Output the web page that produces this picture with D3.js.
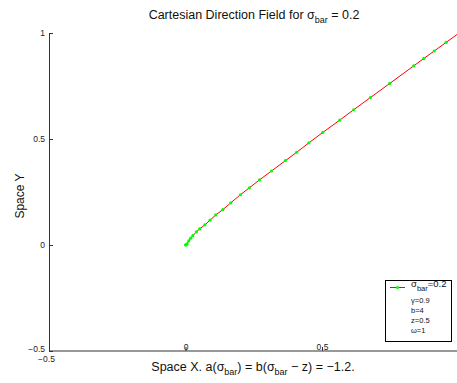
<!DOCTYPE html>
<html>
<head>
<meta charset="utf-8">
<script src="https://cdn.jsdelivr.net/npm/d3@7"></script>
<style>
  body { margin: 0; background: #fff; }
  svg { display: block; font-family: "Liberation Sans", Arial, sans-serif; }
</style>
</head>
<body>
<script>
// trajectory (marker points, plus the line end)
const xVals = [0, 0.002, 0.004, 0.006, 0.012, 0.019, 0.027, 0.040, 0.052, 0.071, 0.090, 0.111,
  0.137, 0.166, 0.201, 0.234, 0.271, 0.315, 0.366, 0.407, 0.452, 0.503, 0.565, 0.616,
  0.677, 0.748, 0.836, 0.873, 0.911, 0.955, 1.0]
const yVals = [0, 0.001, 0.003, 0.006, 0.019, 0.032, 0.044, 0.062, 0.076, 0.095, 0.117, 0.142,
  0.167, 0.199, 0.237, 0.270, 0.307, 0.349, 0.398, 0.437, 0.482, 0.531, 0.589, 0.638,
  0.695, 0.762, 0.845, 0.880, 0.915, 0.956, 0.998]
const xTicks = [-0.5, 0, 0.5]
const yTicks = [-0.5, 0, 0.5, 1]
const legendLines = ['γ=0.9', 'b=4', 'z=0.5', 'ω=1']

;(function () {
  const width = 457
  const height = 383
  const svg = d3.select('body').append('svg')
    .attr('width', width).attr('height', height)

  const x = d3.scaleLinear().domain([-0.5, 1]).range([49, 458.5])
  const y = d3.scaleLinear().domain([-0.5, 1]).range([351, 33])

  // x axis
  const xAxis = svg.append('g')
    .attr('transform', `translate(0,${y(-0.5)})`)
    .call(d3.axisBottom(x).tickValues(xTicks).tickSizeInner(-4).tickSizeOuter(0)
      .tickFormat((d) => (d < 0 ? '\u22120.5' : d3.format('')(d))))
  xAxis.select('.domain').attr('stroke', '#333').attr('d', `M${x(-0.5)},0H${width}`)
  xAxis.selectAll('.tick line').attr('stroke', '#333')
  xAxis.selectAll('.tick text')
    .attr('font-size', 8.5).attr('fill', '#222').attr('dy', null)
    .attr('y', (d) => (d < 0 ? 11 : -1.5))
    .attr('x', (d) => (d < 0 ? -3 : 0))

  // y axis
  const yAxis = svg.append('g')
    .attr('transform', `translate(${x(-0.5)},0)`)
    .call(d3.axisLeft(y).tickValues(yTicks).tickSizeInner(-4).tickSizeOuter(0).tickPadding(4)
      .tickFormat((d) => (d < 0 ? '\u22120.5' : d3.format('')(d))))
  yAxis.select('.domain').attr('stroke', '#333')
  yAxis.selectAll('.tick line').attr('stroke', '#333')
  yAxis.selectAll('.tick text').attr('font-size', 8.5).attr('fill', '#222')
    .attr('dy', (d) => (d < 0 ? '0.1em' : '0.32em'))

  // curve
  const pts = xVals.map((v, i) => [v, yVals[i]])
  const plot = svg.append('g')
  plot.append('path')
    .datum(pts)
    .attr('d', d3.line().x((d) => x(d[0])).y((d) => y(d[1])))
    .attr('fill', 'none')
    .attr('stroke', '#ff0000')
    .attr('stroke-width', 1)
  plot.selectAll('circle')
    .data(pts.slice(0, -1))
    .enter()
    .append('circle')
    .attr('cx', (d) => x(d[0]))
    .attr('cy', (d) => y(d[1]))
    .attr('r', 1.6)
    .attr('fill', '#00ff00')

  // title
  const title = svg.append('text')
    .attr('x', 254).attr('y', 19)
    .attr('text-anchor', 'middle').attr('font-size', 12.5).attr('fill', '#111')
  title.append('tspan').text('Cartesian Direction Field for σ')
  title.append('tspan').attr('font-size', 9).attr('dy', 4).text('bar')
  title.append('tspan').attr('dy', -4).text(' = 0.2')

  // x label
  const xl = svg.append('text')
    .attr('x', 253).attr('y', 371)
    .attr('text-anchor', 'middle').attr('font-size', 12.5).attr('fill', '#111')
  xl.append('tspan').text('Space X. a(σ')
  xl.append('tspan').attr('font-size', 9).attr('dy', 4).text('bar')
  xl.append('tspan').attr('dy', -4).text(') = b(σ')
  xl.append('tspan').attr('font-size', 9).attr('dy', 4).text('bar')
  xl.append('tspan').attr('dy', -4).text(' \u2212 z) = \u22121.2.')

  // y label
  svg.append('text')
    .attr('transform', 'translate(24,196) rotate(-90)')
    .attr('text-anchor', 'middle').attr('font-size', 12).attr('fill', '#111')
    .text('Space Y')

  // legend
  const lg = svg.append('g')
  lg.append('rect')
    .attr('x', 385.5).attr('y', 280.5).attr('width', 66).attr('height', 61)
    .attr('fill', '#fff').attr('stroke', '#000').attr('stroke-width', 1)
  lg.append('line')
    .attr('x1', 390).attr('x2', 405).attr('y1', 287.5).attr('y2', 287.5)
    .attr('stroke', '#ff0000')
  lg.append('circle').attr('cx', 397.5).attr('cy', 287.5).attr('r', 1.6).attr('fill', '#00ff00')
  const l1 = lg.append('text').attr('x', 411).attr('y', 287).attr('font-size', 9.5).attr('fill', '#111')
  l1.append('tspan').text('σ')
  l1.append('tspan').attr('font-size', 7.5).attr('dy', 4).text('bar')
  l1.append('tspan').attr('dy', -4).text('=0.2')
  lg.selectAll('.leg')
    .data(legendLines)
    .enter()
    .append('text')
    .attr('class', 'leg')
    .attr('x', 411)
    .attr('y', (d, i) => 303 + i * 10)
    .attr('font-size', 7.5)
    .attr('fill', '#111')
    .text((d) => d)
})()
</script>
</body>
</html>
